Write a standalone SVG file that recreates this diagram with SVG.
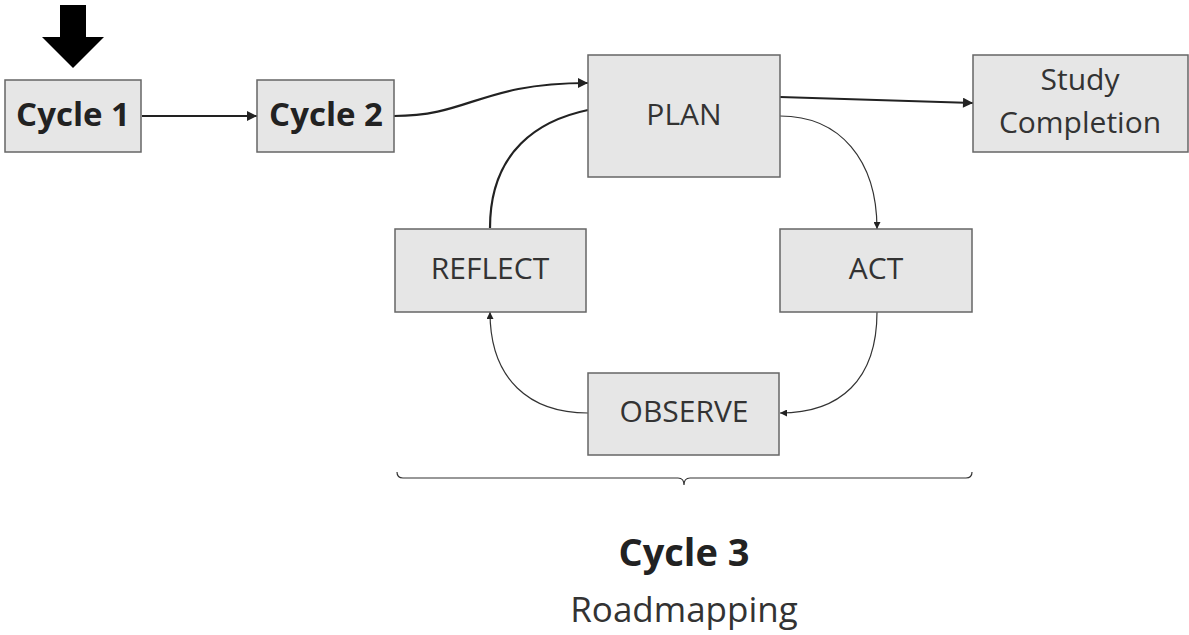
<svg xmlns="http://www.w3.org/2000/svg" width="1189" height="635" viewBox="0 0 1189 635">
<style>
.box{fill:#e6e6e6;stroke:#666;stroke-width:1.5}
.t{font-family:"Open Sans","Noto Sans",sans-serif;font-size:30px;fill:#333;text-anchor:middle}
.b{font-weight:bold;fill:#222}
.thick{fill:none;stroke:#222;stroke-width:2.2}
.thin{fill:none;stroke:#333;stroke-width:1.2}
</style>
<defs>
<marker id="ah" viewBox="0 0 10 10" refX="10" refY="5" markerWidth="8" markerHeight="7" markerUnits="userSpaceOnUse" orient="auto"><path d="M0,0L10,5L0,10z" fill="#222"/></marker>
<marker id="ahL" viewBox="0 0 10 10" refX="10" refY="5" markerWidth="13" markerHeight="10" markerUnits="userSpaceOnUse" orient="auto"><path d="M0,0L10,5L0,10z" fill="#222"/></marker>
</defs>
<rect width="1189" height="635" fill="#fff"/>
<path d="M60,5H86V37H104L73,68L42,37H60z" fill="#000"/>
<g id="connectors">
<path class="thick" d="M142,116H257" marker-end="url(#ahL)"/>
<path class="thick" d="M394,116C470,116,480,83,588,83" marker-end="url(#ahL)"/>
<path class="thick" d="M490,228C490,150,540,120,588,110"/>
<path class="thick" d="M780,97L973,103" marker-end="url(#ahL)"/>
<path class="thin" d="M780,116C840,116,877,160,877,229" marker-end="url(#ah)"/>
<path class="thin" d="M877,312C877,380,840,413,780,413" marker-end="url(#ah)"/>
<path class="thin" d="M588,413C530,413,490,380,490,312" marker-end="url(#ah)"/>
<path class="thin" d="M397,472Q397,478,403,478H678Q684,478,684,485Q684,478,690,478H966Q972,478,972,472" stroke="#555"/>
</g>
<g id="cycle1"><rect class="box" x="5" y="80" width="136" height="72"/><text class="t b" x="73" y="126" style="font-size:33px">Cycle 1</text></g>
<g id="cycle2"><rect class="box" x="257" y="80" width="137" height="72"/><text class="t b" x="326" y="126" style="font-size:33px">Cycle 2</text></g>
<g id="plan"><rect class="box" x="588" y="55" width="192" height="122"/><text class="t" x="684" y="125">PLAN</text></g>
<g id="study"><rect class="box" x="973" y="55" width="215" height="97"/><text class="t" x="1080" y="90">Study</text><text class="t" x="1080" y="133">Completion</text></g>
<g id="reflect"><rect class="box" x="395" y="229" width="191" height="83"/><text class="t" x="490" y="279">REFLECT</text></g>
<g id="act"><rect class="box" x="780" y="229" width="192" height="83"/><text class="t" x="876" y="279">ACT</text></g>
<g id="observe"><rect class="box" x="588" y="373" width="191" height="82"/><text class="t" x="684" y="422">OBSERVE</text></g>
<text class="t b" x="684" y="566" style="font-size:38px">Cycle 3</text>
<text class="t" x="684" y="622" style="font-size:35px">Roadmapping</text>
</svg>
